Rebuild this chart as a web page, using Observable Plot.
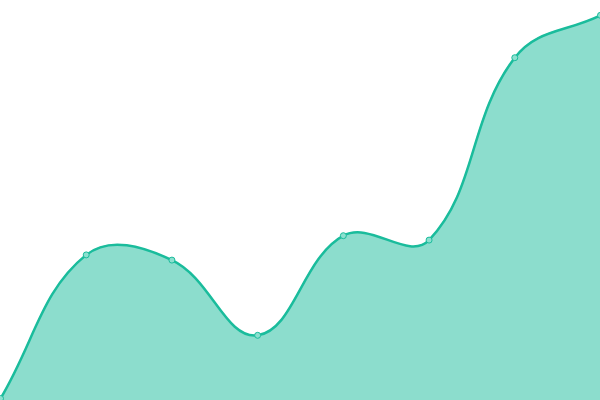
<!DOCTYPE html>
<html><head><meta charset="utf-8">
<script src="https://cdn.jsdelivr.net/npm/d3@7"></script>
<script src="https://cdn.jsdelivr.net/npm/@observablehq/plot@0.6"></script>
<style>body{margin:0;background:#fff;overflow:hidden}</style>
</head><body><div id="chart"></div>
<script>
const xs = [0, 1, 2, 3, 4, 5, 6, 7];
const values = [0.5, 36.4, 35.1, 16.3, 41.2, 40.1, 85.7, 96.3];
const data = xs.map((x, i) => ({x, y: values[i]}));

// Smooth spline curve (tension-based Bézier, control points scaled by neighbour distances)
function splineCurve(t) {
  return function(context) {
    let pts, line;
    return {
      areaStart() { line = 0; },
      areaEnd() { line = NaN; },
      lineStart() { pts = []; },
      point(x, y) { pts.push([+x, +y]); },
      lineEnd() {
        const n = pts.length;
        if (n) {
          if (line) context.lineTo(pts[0][0], pts[0][1]);
          else context.moveTo(pts[0][0], pts[0][1]);
          const cps = pts.map((p, i) => {
            const prev = pts[Math.max(0, i - 1)], next = pts[Math.min(n - 1, i + 1)];
            const d01 = Math.hypot(p[0] - prev[0], p[1] - prev[1]);
            const d12 = Math.hypot(next[0] - p[0], next[1] - p[1]);
            let s01 = d01 / (d01 + d12), s12 = d12 / (d01 + d12);
            if (!isFinite(s01)) s01 = 0;
            if (!isFinite(s12)) s12 = 0;
            const fa = t * s01, fb = t * s12;
            const dx = next[0] - prev[0], dy = next[1] - prev[1];
            return {a: [p[0] - fa * dx, p[1] - fa * dy], b: [p[0] + fb * dx, p[1] + fb * dy]};
          });
          for (let i = 1; i < n; i++) {
            context.bezierCurveTo(cps[i - 1].b[0], cps[i - 1].b[1], cps[i].a[0], cps[i].a[1], pts[i][0], pts[i][1]);
          }
        }
        if (line || (line !== 0 && n === 1)) context.closePath();
        line = 1 - line;
      }
    };
  };
}
const curve = splineCurve(0.4);

const chart = Plot.plot({
  width: 600, height: 400, margin: 0,
  x: {domain: [0, 7], range: [0, 600], axis: null},
  y: {domain: [0, 100], range: [400, 0], axis: null},
  marks: [
    Plot.areaY(data, {x: "x", y: "y", curve, fill: "#1abc9c", fillOpacity: 0.5}),
    Plot.lineY(data, {x: "x", y: "y", curve, stroke: "#1abc9c", strokeWidth: 2.5}),
    Plot.dot(data, {x: "x", y: "y", r: 3, fill: "#8ce0cf", stroke: "#1abc9c", strokeWidth: 1})
  ]
});
document.getElementById("chart").appendChild(chart);
</script></body></html>
